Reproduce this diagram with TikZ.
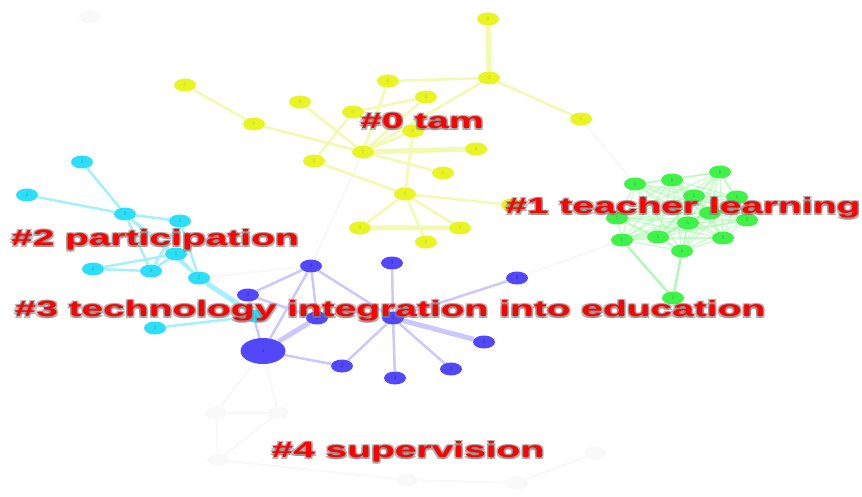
\documentclass[tikz,border=0pt]{standalone}
\usepackage{fontspec}
\setmainfont{Liberation Sans}
\usetikzlibrary{shapes.geometric}
\definecolor{ynode}{RGB}{232,245,35}
\definecolor{yedge}{RGB}{242,250,175}
\definecolor{cnode}{RGB}{45,222,250}
\definecolor{cedge}{RGB}{165,240,252}
\definecolor{bnode}{RGB}{82,72,250}
\definecolor{bedge}{RGB}{202,200,252}
\definecolor{gnode}{RGB}{62,242,72}
\definecolor{gedge}{RGB}{160,246,165}
\definecolor{fnode}{RGB}{249,249,249}
\definecolor{fedge}{RGB}{248,248,248}
\pgfdeclarelayer{edges}
\pgfsetlayers{edges,main}

\begin{document}
\begin{tikzpicture}[x=1pt, y=-1pt,
    knot/.style={ellipse, inner sep=0pt, minimum width=22pt, minimum height=13pt, font=\fontsize{5}{5}\selectfont},
    yknot/.style={knot, fill=ynode, text=ynode!85!black},
    cknot/.style={knot, fill=cnode, text=cnode!75!black},
    bknot/.style={knot, fill=bnode, text=bnode!65!black},
    gknot/.style={knot, fill=gnode, text=gnode!75!black},
    fknot/.style={knot, fill=fnode, text=fnode},
    yline/.style={draw=yedge, line width=2.5pt},
    cline/.style={draw=cedge, line width=2.5pt},
    bline/.style={draw=bedge, line width=2.5pt},
    gline/.style={draw=gedge, line width=1.4pt, opacity=.5},
    fline/.style={draw=fedge, line width=2pt},
    cluster/.style={font=\fontsize{22}{26}\selectfont\bfseries, inner sep=0pt, xscale=1.77}]
    \useasboundingbox (0,0) rectangle (862,497);

    % cluster #0
    \node[yknot] (y1) at (488,19) {0};
    \node[yknot] (y2) at (489,78) {0};
    \node[yknot] (y3) at (388,81) {0};
    \node[yknot] (y4) at (185,85) {0};
    \node[yknot] (y5) at (300,102) {0};
    \node[yknot] (y6) at (426,97) {0};
    \node[yknot] (y7) at (353,112) {0};
    \node[yknot] (y8) at (581,119) {0};
    \node[yknot] (y9) at (254,124) {0};
    \node[yknot] (y10) at (413,131) {0};
    \node[yknot] (y11) at (363,152) {0};
    \node[yknot] (y12) at (476,149) {0};
    \node[yknot] (y13) at (314,161) {0};
    \node[yknot] (y14) at (443,173) {0};
    \node[yknot] (y15) at (405,194) {0};
    \node[yknot] (y16) at (360,228) {0};
    \node[yknot] (y17) at (460,228) {0};
    \node[yknot] (y18) at (426,242) {0};
    \node[yknot] (y19) at (512,205) {0};

    % cluster #1
    \node[gknot] (g1) at (635,184) {1};
    \node[gknot] (g2) at (672,180) {1};
    \node[gknot] (g3) at (720,172) {1};
    \node[gknot] (g4) at (694,196) {1};
    \node[gknot] (g5) at (737,197) {1};
    \node[gknot] (g6) at (617,218) {1};
    \node[gknot] (g7) at (710,213) {1};
    \node[gknot] (g8) at (747,220) {1};
    \node[gknot] (g9) at (688,223) {1};
    \node[gknot] (g10) at (622,240) {1};
    \node[gknot] (g11) at (658,237) {1};
    \node[gknot] (g12) at (723,238) {1};
    \node[gknot] (g13) at (682,251) {1};
    \node[gknot] (g14) at (673,298) {1};

    % cluster #2
    \node[cknot] (c1) at (82,162) {2};
    \node[cknot] (c2) at (27,195) {2};
    \node[cknot] (c3) at (125,214) {2};
    \node[cknot] (c4) at (180,221) {2};
    \node[cknot] (c5) at (176,254) {2};
    \node[cknot] (c6) at (93,269) {2};
    \node[cknot] (c7) at (151,271) {2};
    \node[cknot] (c8) at (199,278) {2};
    \node[cknot] (c9) at (155,328) {2};
    \node[cknot] (c10) at (256,316) {2};

    % cluster #3
    \node[bknot] (b1) at (311,266) {3};
    \node[bknot] (b2) at (392,263) {3};
    \node[bknot] (b3) at (517,278) {3};
    \node[bknot] (b4) at (248,295) {3};
    \node[bknot] (b5) at (317,318) {3};
    \node[bknot] (b6) at (393,318) {3};
    \node[bknot, minimum width=45pt, minimum height=26pt] (b7) at (263,351) {3};
    \node[bknot] (b8) at (484,342) {3};
    \node[bknot] (b9) at (342,366) {3};
    \node[bknot] (b10) at (451,369) {3};
    \node[bknot] (b11) at (395,378) {3};

    % cluster #4, almost faded out
    \node[fknot] (f1) at (90,17) {4};
    \node[fknot] (f2) at (216,413) {4};
    \node[fknot] (f3) at (278,413) {4};
    \node[fknot] (f4) at (218,460) {4};
    \node[fknot] (f5) at (407,480) {4};
    \node[fknot] (f6) at (517,483) {4};
    \node[fknot] (f7) at (595,453) {4};

    \begin{pgfonlayer}{edges}
        \draw[fline] (f2) -- (f3) (f2) -- (f4) (f3) -- (f4) (f4) -- (f5) (f5) -- (f6) (f6) -- (f7);
        \draw[fline] (f2) -- (b7) (f3) -- (b7) (y11) -- (b1) (y8) -- (g1) (g10) -- (b3) (c8) -- (b1);
        \draw[yline, line width=5pt] (y1) -- (y2) (y11) -- (y12) (y16) -- (y17);
        \draw[yline] (y2) -- (y3) (y2) -- (y8) (y2) -- (y11) (y4) -- (y9) (y9) -- (y11)
            (y5) -- (y11) (y3) -- (y11) (y6) -- (y7) (y6) -- (y11) (y7) -- (y13)
            (y10) -- (y11) (y11) -- (y14) (y13) -- (y15) (y10) -- (y15) (y15) -- (y19)
            (y15) -- (y16) (y15) -- (y17) (y15) -- (y18);
        \foreach \a in {1,...,12} {
            \pgfmathtruncatemacro\nxt{\a+1}
            \foreach \b in {\nxt,...,13} {
                \draw[gline] (g\a) -- (g\b);
            }
        }
        \draw[gline, line width=2.5pt, opacity=.8] (g10) -- (g14) (g13) -- (g14);
        \draw[cline, line width=5pt] (c8) -- (c10);
        \draw[cline] (c1) -- (c3) (c2) -- (c3) (c3) -- (c4) (c3) -- (c5) (c3) -- (c7)
            (c3) -- (c8) (c4) -- (c5) (c4) -- (c8) (c6) -- (c5) (c6) -- (c7)
            (c7) -- (c5) (c5) -- (c8) (c9) -- (c10) (c4) -- (c7);
        \draw[bline, line width=5pt] (b5) -- (b7) (b6) -- (b8);
        \draw[bline] (b1) -- (b4) (b1) -- (b5) (b1) -- (b7) (b1) -- (b6) (b4) -- (b7)
            (b4) -- (b5) (b7) -- (b9) (b2) -- (b6) (b3) -- (b6) (b6) -- (b9)
            (b6) -- (b10) (b6) -- (b11);
    \end{pgfonlayer}

    % labels
    \foreach \nm/\px/\py/\txt in {l0/422/121/{\#0 tam}, l1/683/208/{\#1 teacher learning},
        l2/155/240/{\#2 participation}, l3/390/311/{\#3 technology integration into education},
        l4/408/452/{\#4 supervision}} {
        \foreach \dx/\dy [count=\k] in {-1.5/-1, 1.5/-1, -1.5/1.5, 1.5/1.5} {
            \node[cluster, text=black!50, opacity=.6] (\nm h\k) at (\px+\dx,\py+\dy) {\txt};
        }
        \node[cluster, text=red] (\nm) at (\px,\py) {\txt};
    }
\end{tikzpicture}
\end{document}
